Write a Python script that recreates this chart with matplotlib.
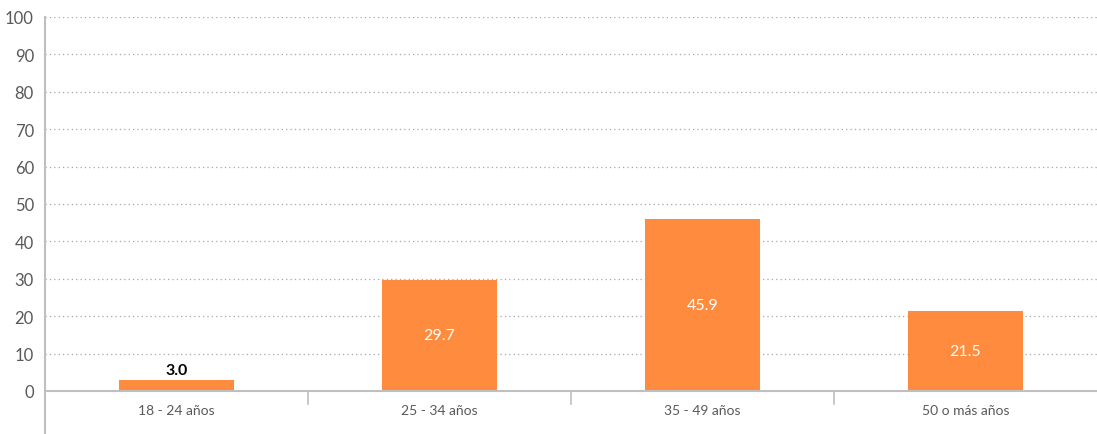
import matplotlib
matplotlib.use("Agg")
import matplotlib.pyplot as plt

categories = ["18 - 24 años", "25 - 34 años", "35 - 49 años", "50 o más años"]
values = [3.0, 29.7, 45.9, 21.5]
yticks = [0, 10, 20, 30, 40, 50, 60, 70, 80, 90, 100]

plt.rcParams['font.family'] = ['Lato', 'DejaVu Sans']

fig = plt.figure(figsize=(10.97, 4.35), dpi=100)
ax = fig.add_axes([45/1097, 0.0, 1 - 45/1097, 1 - 18/435])

x = list(range(len(categories)))
bar_color = "#FF8C3E"
ax.bar(x, values, width=0.435, color=bar_color, zorder=3)

ax.set_xlim(-0.5, len(categories) - 0.5)
ax.set_ylim(-11.5, 100)

for s in ["top", "right", "bottom"]:
    ax.spines[s].set_visible(False)
ax.spines["left"].set_color("#BFBFBF")
ax.spines["left"].set_linewidth(1.5)

ax.set_yticks(yticks)
ax.set_yticklabels([str(t) for t in yticks], color="#595959", fontsize=12)
ax.tick_params(axis="y", length=0, pad=8)
ax.set_xticks([])

for t in yticks[1:]:
    ax.axhline(t, color="#A6A6A6", linestyle=(0, (1, 2.5)), linewidth=0.9, zorder=1)
ax.axhline(0, color="#BFBFBF", linewidth=1.5, zorder=4)

for b in [0.5, 1.5, 2.5]:
    ax.plot([b, b], [0, -3.6], color="#BFBFBF", linewidth=1.2, zorder=4, clip_on=False)

for i, c in enumerate(categories):
    ax.text(i, -5.2, c, ha="center", va="center", fontsize=10, color="#595959")

for i, v in enumerate(values):
    if v < 10:
        ax.text(i, v + 0.8, f"{v:.1f}", ha="center", va="bottom", fontsize=11.5,
                color="#000000", fontweight="bold")
    else:
        ax.text(i, v / 2, f"{v:.1f}", ha="center", va="center", fontsize=11.5,
                color="white")

fig.savefig("out.png", dpi=100)
